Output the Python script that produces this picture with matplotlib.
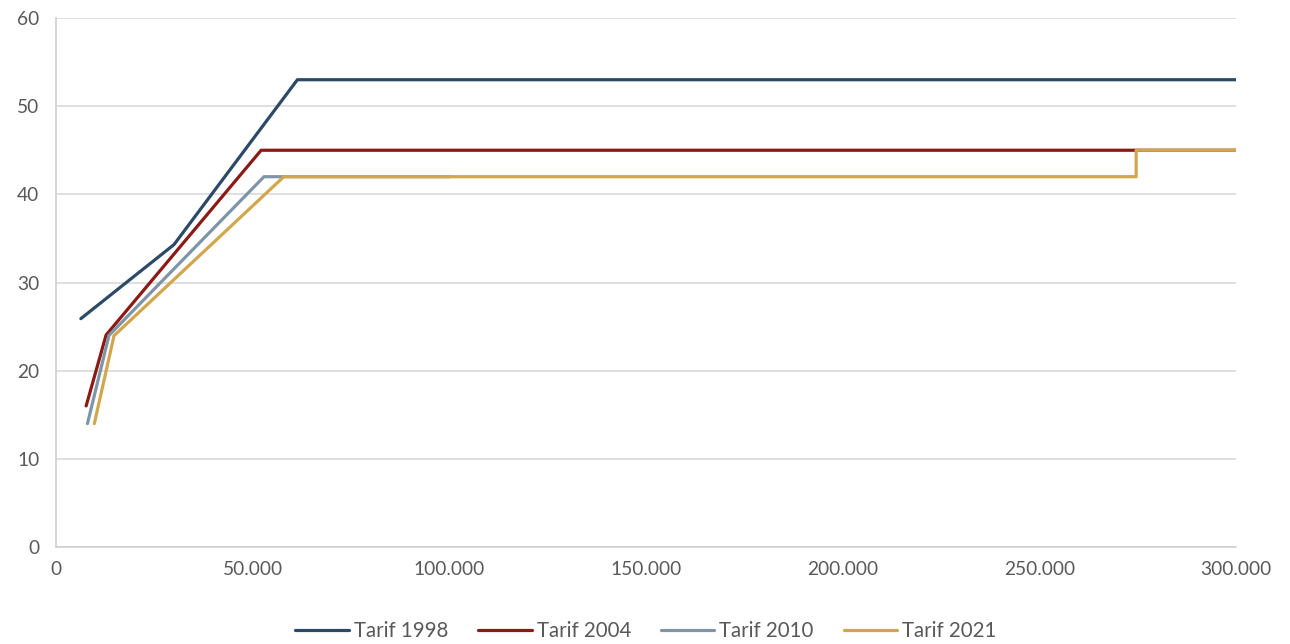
import matplotlib
matplotlib.use("Agg")
import matplotlib.pyplot as plt
from matplotlib.ticker import FuncFormatter

plt.rcParams['font.family'] = ['Lato', 'DejaVu Sans']

# income (EUR) vs marginal tax rate (%)
x_1998 = [6322, 30000, 61377, 300000]
y_1998 = [25.9, 34.3, 53, 53]

x_2004 = [7664, 12739, 52151, 300000]
y_2004 = [16, 24.05, 45, 45]

x_2010 = [8004, 13469, 52881, 100000]
y_2010 = [14, 24, 42, 42]

x_2021 = [9744, 14753, 57918, 274612, 274612, 300000]
y_2021 = [14, 23.97, 42, 42, 45, 45]

series = [
    ("Tarif 1998", x_1998, y_1998, "#2C4A67"),
    ("Tarif 2004", x_2004, y_2004, "#8C1A14"),
    ("Tarif 2010", x_2010, y_2010, "#7E95A8"),
    ("Tarif 2021", x_2021, y_2021, "#D2A64C"),
]

fig = plt.figure(figsize=(12.9, 6.44), dpi=100)
ax = fig.add_axes([56 / 1290, 1 - 547 / 644, 1180 / 1290, 529 / 644])

for label, xs, ys, col in series:
    ax.plot(xs, ys, color=col, lw=2.3, label=label, solid_capstyle='round', zorder=3)

ax.set_xlim(0, 300000)
ax.set_ylim(0, 60)
ax.set_xticks(range(0, 300001, 50000))
ax.set_yticks(range(0, 61, 10))
ax.xaxis.set_major_formatter(FuncFormatter(lambda v, p: f"{int(v):,}".replace(",", ".")))

ax.grid(axis='y', color='#D9D9D9', lw=1.2, zorder=0)
for s in ['top', 'right']:
    ax.spines[s].set_visible(False)
for s in ['left', 'bottom']:
    ax.spines[s].set_color('#D0D0D0')
    ax.spines[s].set_linewidth(1.2)
ax.tick_params(length=0, labelsize=13.8, colors='#595959', pad=10)
ax.tick_params(axis='y', pad=12)

ax.legend(loc='upper center', bbox_to_anchor=(0.5, -0.113), ncol=4, frameon=False,
          fontsize=14.8, labelcolor='#595959', handlelength=2.6, columnspacing=1.45,
          handletextpad=0.25, borderpad=0.2)

fig.savefig("out.png", dpi=100)
